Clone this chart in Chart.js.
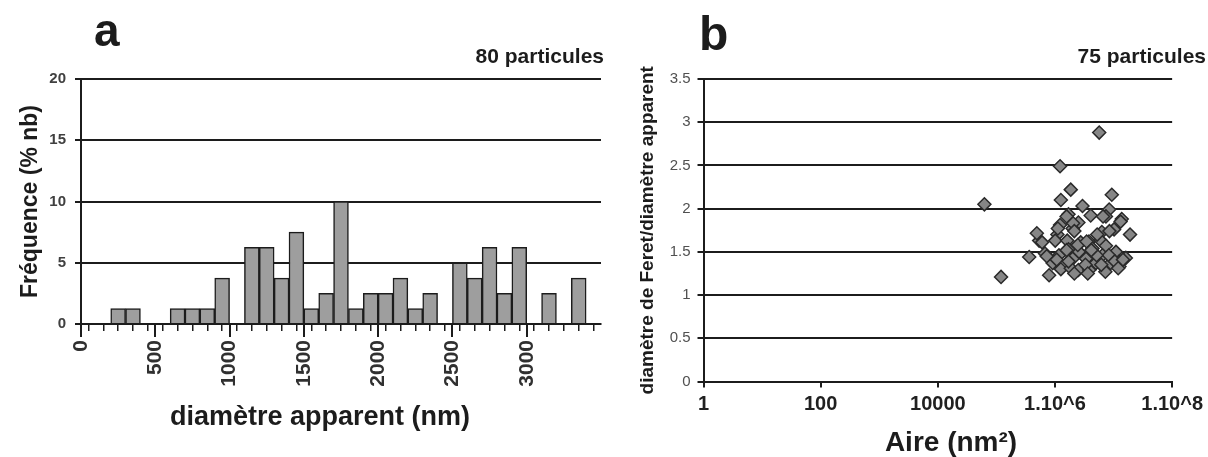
<!DOCTYPE html>
<html>
<head>
<meta charset="utf-8">
<script src="https://cdn.jsdelivr.net/npm/chart.js@4.4.1/dist/chart.umd.min.js"></script>
<style>
  html, body { margin: 0; padding: 0; background: #ffffff; }
  #wrap { position: relative; width: 1208px; height: 457px; overflow: hidden; background: #ffffff; }
  canvas { position: absolute; top: 0; }
  #histo { left: 0; }
  #ratio { left: 620px; }
</style>
</head>
<body>
<div id="wrap">
  <canvas id="histo" width="620" height="457"></canvas>
  <canvas id="ratio" width="588" height="457"></canvas>
</div>
<script>
// ---- (a) size distribution: 100 nm bins, frequency in % of particle count
const binStarts = [200, 300, 600, 700, 800, 900, 1100, 1200, 1300, 1400, 1500, 1600, 1700,
                   1800, 1900, 2000, 2100, 2200, 2300, 2500, 2600, 2700, 2800, 2900, 3100, 3300];
const frequencies = [1.25, 1.25, 1.25, 1.25, 1.25, 3.75, 6.25, 6.25, 3.75, 7.5, 1.25, 2.5, 10,
                     1.25, 2.5, 2.5, 3.75, 1.25, 2.5, 5, 3.75, 6.25, 2.5, 6.25, 2.5, 3.75];
const binWidth = 100;
const diamTickValues = [0, 500, 1000, 1500, 2000, 2500, 3000];
const diamTickLabels = ['0', '500', '1000', '1500', '2000', '2500', '3000'];
const freqTickLabels = ['0', '5', '10', '15', '20'];

// ---- (b) Feret diameter / apparent diameter versus projected area (nm²)
const areas = [5.69e6, 1.22e6, 1.86e6, 1.26e6, 9.33e6, 2.95e6, 1.70e6, 4.07e6, 8.41e6, 7.41e6,
               1.38e7, 2.51e6, 1.22e6, 2.00e6, 1.02e7, 6.31e6, 1.91e7, 1.10e6, 5.37e5, 1.01e6,
               1.62e6, 2.75e6, 3.80e6, 6.03e6, 7.41e6, 1.70e6, 4.37e6, 2.57e6, 1.10e7, 6.76e5,
               1.17e6, 6.46e6, 2.00e6, 3.39e6, 1.26e7, 1.62e7, 9.12e5, 5.01e6, 8.91e6, 1.26e6,
               1.86e6, 2.51e6, 3.85e6, 7.24e6, 1.26e7, 7.94e5, 6.24e4, 1.20e5, 4.90e5, 6.03e5,
               3.63e5, 7.24e5, 1.07e6, 2.04e6, 2.14e6, 1.70e6, 2.14e6, 2.45e6, 3.31e6, 3.63e6,
               3.47e6, 5.25e6, 6.61e6, 8.51e6, 8.32e6, 1.05e7, 1.20e7, 1.32e7, 5.13e6, 1.58e6,
               1.12e6, 1.58e6, 4.17e6, 6.17e6, 1.45e7];
const ratios = [2.88, 2.49, 2.22, 2.10, 2.16, 2.03, 1.935, 1.92, 1.99, 1.91,
                1.88, 1.84, 1.81, 1.77, 1.76, 1.73, 1.70, 1.70, 1.63, 1.63,
                1.63, 1.61, 1.62, 1.63, 1.57, 1.53, 1.54, 1.50, 1.50, 1.48,
                1.46, 1.46, 1.42, 1.42, 1.39, 1.43, 1.37, 1.37, 1.37, 1.30,
                1.31, 1.29, 1.29, 1.27, 1.33, 1.23, 2.05, 1.21, 1.715, 1.61,
                1.44, 1.45, 1.41, 1.83, 1.74, 1.39, 1.25, 1.58, 1.35, 1.25,
                1.62, 1.70, 1.91, 1.74, 1.46, 1.39, 1.31, 1.85, 1.46, 1.52,
                1.77, 1.91, 1.52, 1.35, 1.41];
const areaTickValues = [1, 100, 1e4, 1e6, 1e8];
const areaTickLabels = ['1', '100', '10000', '1.10^6', '1.10^8'];
const ratioTickLabels = ['0', '0.5', '1', '1.5', '2', '2.5', '3', '3.5'];

const FONT = '"Liberation Sans", Arial, Helvetica, sans-serif';
const INK = '#1c1c1c';

// panel letter, particle count and horizontal axis caption
const panelText = {
  id: 'panelText',
  afterDraw(chart, args, opts) {
    const ctx = chart.ctx;
    ctx.save();
    ctx.fillStyle = INK;
    ctx.textBaseline = 'alphabetic';
    ctx.font = 'bold ' + opts.letterSize + 'px ' + FONT;
    ctx.textAlign = 'left';
    ctx.fillText(opts.letter, opts.letterX, opts.letterY);
    ctx.font = 'bold ' + opts.noteSize + 'px ' + FONT;
    ctx.textAlign = 'right';
    ctx.fillText(opts.note, opts.noteX, opts.noteY);
    ctx.font = 'bold ' + opts.captionSize + 'px ' + FONT;
    ctx.textAlign = 'center';
    ctx.fillText(opts.caption, opts.captionX, opts.captionY);
    ctx.restore();
  }
};

// longer tick marks at the labelled diameters
const majorTicks = {
  id: 'majorTicks',
  afterDraw(chart, args, opts) {
    if (!opts.values) return;
    const sc = chart.scales.x;
    const ctx = chart.ctx;
    ctx.save();
    ctx.strokeStyle = INK;
    ctx.lineWidth = 2;
    opts.values.forEach(v => {
      const px = Math.round(sc.getPixelForValue(v));
      ctx.beginPath();
      ctx.moveTo(px, sc.top);
      ctx.lineTo(px, sc.top + opts.length);
      ctx.stroke();
    });
    ctx.restore();
  }
};

Chart.register(panelText, majorTicks);

// ---------- histogram
new Chart(document.getElementById('histo'), {
  type: 'bar',
  data: {
    datasets: [{
      data: binStarts.map((s, i) => ({ x: s + binWidth / 2, y: frequencies[i] })),
      backgroundColor: '#9e9e9e',
      borderColor: INK,
      borderWidth: 1.5,
      borderSkipped: 'start',
      barPercentage: 1,
      categoryPercentage: 1
    }]
  },
  options: {
    responsive: false,
    animation: false,
    devicePixelRatio: 1,
    layout: { padding: { top: 79, right: 19, bottom: 0, left: 0 } },
    plugins: {
      legend: { display: false },
      tooltip: { enabled: false },
      panelText: { letter: 'a', letterSize: 46, letterX: 94, letterY: 46,
                   note: '80 particules', noteSize: 21, noteX: 604, noteY: 63,
                   caption: 'diamètre apparent (nm)', captionSize: 27, captionX: 320, captionY: 425 },
      majorTicks: { values: diamTickValues, length: 13 }
    },
    scales: {
      x: {
        type: 'linear',
        min: 0,
        max: 3500,
        offset: false,
        afterBuildTicks: sc => {
          const t = [];
          for (let v = 0; v <= 3500; v += binWidth) t.push({ value: v });
          sc.ticks = t;
        },
        afterFit: sc => { sc.height = 133; sc.paddingLeft = 0; sc.paddingRight = 0; },
        grid: { drawOnChartArea: false, color: INK, lineWidth: 1.5, tickLength: 7 },
        border: { display: true, color: INK, width: 2 },
        ticks: {
          autoSkip: false,
          minRotation: 90,
          maxRotation: 90,
          padding: 9,
          color: '#303030',
          font: { family: FONT, size: 21, weight: 'bold' },
          callback: v => {
            const i = diamTickValues.indexOf(v);
            return i >= 0 ? diamTickLabels[i] : '';
          }
        }
      },
      y: {
        min: 0,
        max: 20,
        afterBuildTicks: sc => { sc.ticks = freqTickLabels.map((l, i) => ({ value: i * 5 })); },
        afterFit: sc => { sc.width = 81; },
        grid: { color: INK, lineWidth: 2, tickLength: 6 },
        border: { display: true, color: INK, width: 2 },
        ticks: {
          padding: 9,
          color: '#404040',
          font: { family: FONT, size: 15, weight: 'bold' },
          callback: (v, i) => freqTickLabels[i]
        },
        title: {
          display: true,
          text: 'Fréquence (% nb)',
          color: INK,
          font: { family: FONT, size: 23, weight: 'bold', lineHeight: 1 },
          padding: { top: 19, bottom: 0 }
        }
      }
    }
  }
});

// ---------- shape ratio versus area
new Chart(document.getElementById('ratio'), {
  type: 'scatter',
  data: {
    datasets: [{
      data: areas.map((a, i) => ({ x: a, y: ratios[i] })),
      pointStyle: 'rectRot',
      pointRadius: 6.5,
      backgroundColor: '#868686',
      borderColor: '#2a2a2a',
      borderWidth: 1.5
    }]
  },
  options: {
    responsive: false,
    animation: false,
    devicePixelRatio: 1,
    layout: { padding: { top: 79, right: 35, bottom: 0, left: 0 } },
    plugins: {
      legend: { display: false },
      tooltip: { enabled: false },
      panelText: { letter: 'b', letterSize: 48, letterX: 79, letterY: 50,
                   note: '75 particules', noteSize: 21, noteX: 586, noteY: 63,
                   caption: 'Aire (nm²)', captionSize: 28, captionX: 331, captionY: 451 }
    },
    scales: {
      x: {
        type: 'logarithmic',
        min: 1,
        max: 1e8,
        afterBuildTicks: sc => { sc.ticks = areaTickValues.map(v => ({ value: v })); },
        afterFit: sc => { sc.height = 75.5; },
        grid: { drawOnChartArea: false, color: INK, lineWidth: 2, tickLength: 6 },
        border: { display: true, color: INK, width: 2 },
        ticks: {
          autoSkip: false,
          maxRotation: 0,
          padding: 5,
          color: '#202020',
          font: { family: FONT, size: 20, weight: 'bold' },
          callback: (v, i) => areaTickLabels[i]
        }
      },
      y: {
        min: 0,
        max: 3.5,
        afterBuildTicks: sc => { sc.ticks = ratioTickLabels.map((l, i) => ({ value: i * 0.5 })); },
        afterFit: sc => { sc.width = 83.5; },
        grid: { color: INK, lineWidth: 2, tickLength: 6 },
        border: { display: true, color: INK, width: 2 },
        ticks: {
          padding: 7,
          color: '#505050',
          font: { family: FONT, size: 15 },
          callback: (v, i) => ratioTickLabels[i]
        },
        title: {
          display: true,
          text: 'diamètre de Feret/diamètre apparent',
          color: INK,
          font: { family: FONT, size: 19, weight: 'bold', lineHeight: 1 },
          padding: { top: 18, bottom: 0 }
        }
      }
    }
  }
});
</script>
</body>
</html>
